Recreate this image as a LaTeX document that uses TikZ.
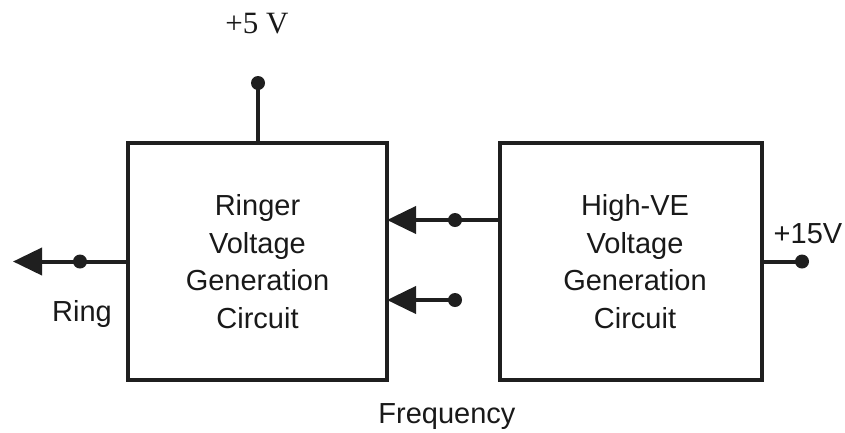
\documentclass[tikz,border=0pt]{standalone}
\usepackage{fontspec}
\setmainfont{Liberation Sans}
\newfontfamily\serifpart{Liberation Serif}
\usetikzlibrary{arrows.meta}
\begin{document}
\begin{tikzpicture}[x=1pt,y=-1pt,
  blockbox/.style={draw=black!88,line width=4pt,outer sep=0pt,inner sep=0pt,
    minimum height=237pt,align=center,text=black!90,
    font=\fontsize{29}{37.7}\selectfont},
  wire/.style={draw=black!88,line width=4pt},
  arr/.style={wire,-{Triangle[length=29pt,width=27pt]}},
  dotc/.style={fill=black!88},
  lab/.style={anchor=base,font=\fontsize{29}{34}\selectfont,text=black!90}]
\useasboundingbox (0,0) rectangle (845,432);
\node[blockbox,minimum width=259pt] (lbox) at (257.5,261.5) {Ringer\\Voltage\\Generation\\Circuit};
\node[blockbox,minimum width=262pt] (rbox) at (631,261.5) {\hspace*{8pt}High-VE\\\hspace*{8pt}Voltage\\\hspace*{8pt}Generation\\\hspace*{8pt}Circuit};
% +5 V supply
\coordinate (p5) at (258,83);
\draw[wire] (p5) -- (p5 |- lbox.north);
\fill[dotc] (p5) circle (7pt);
\node[anchor=base,font=\serifpart\fontsize{31}{34}\selectfont,text=black!90] (t5) at (257,33) {+5 V};
% Ring output
\coordinate (ringend) at (13,261.5);
\coordinate (ringdot) at (80,261.5);
\draw[arr] (lbox.west) -- (ringend);
\fill[dotc] (ringdot) circle (7pt);
\node[lab] (tring) at (82,321) {Ring};
% inputs
\coordinate (updot) at (455,220);
\coordinate (lodot) at (455,300);
\draw[wire] (rbox.west |- updot) -- (updot);
\draw[arr] (updot) -- (lbox.east |- updot);
\draw[arr] (lodot) -- (lbox.east |- lodot);
\fill[dotc] (updot) circle (7pt);
\fill[dotc] (lodot) circle (7pt);
% +15V
\coordinate (p15) at (802,261.5);
\draw[wire] (rbox.east) -- (p15);
\fill[dotc] (p15) circle (7pt);
\node[lab] (t15) at (808,243) {+15V};
% Frequency
\node[lab] (tfreq) at (447,423) {Frequency};
\end{tikzpicture}
\end{document}
